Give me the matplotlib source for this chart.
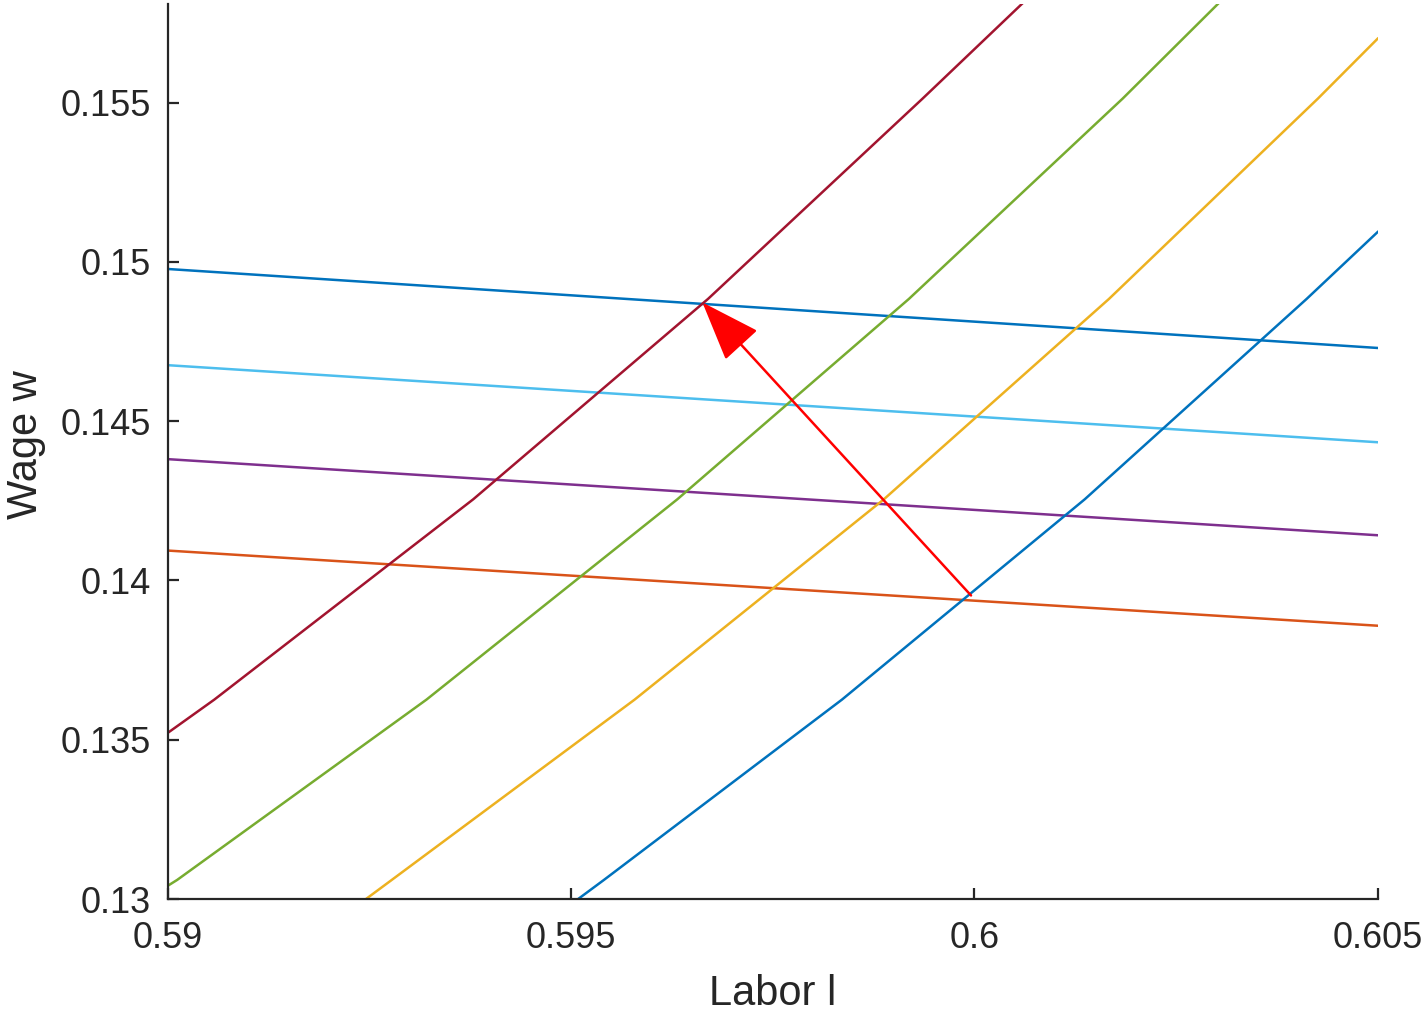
import matplotlib
matplotlib.use("Agg")
import matplotlib.pyplot as plt

plt.rcParams['font.family'] = ['Liberation Sans', 'DejaVu Sans']

# labour supply curves (labor, wage)
supply_red_l = [0.5900, 0.59058, 0.59379, 0.59670, 0.59936, 0.60059]
supply_red_w = [0.13521, 0.13626, 0.14255, 0.14884, 0.15513, 0.1581]
supply_green_l = [0.5900, 0.59012, 0.59321, 0.59632, 0.59919, 0.60184, 0.60302]
supply_green_w = [0.13041, 0.13060, 0.13626, 0.14255, 0.14884, 0.15513, 0.1581]
supply_yellow_l = [0.59246, 0.59278, 0.59579, 0.59888, 0.60167, 0.60426, 0.605]
supply_yellow_w = [0.13, 0.13060, 0.13626, 0.14255, 0.14884, 0.15513, 0.15701]
supply_blue_l = [0.59509, 0.59541, 0.59836, 0.60137, 0.60412, 0.605]
supply_blue_w = [0.13, 0.13060, 0.13626, 0.14255, 0.14884, 0.15094]

# labour demand curves, nearly flat
demand_l = [0.59, 0.605]
demand_darkblue_w = [0.14978, 0.14730]
demand_lightblue_w = [0.14676, 0.14434]
demand_purple_w = [0.14381, 0.14142]
demand_orange_w = [0.14094, 0.13858]

# equilibrium shift
arrow_from = (0.59996, 0.13953)
arrow_to = (0.59663, 0.14873)

xticks = [0.59, 0.595, 0.6, 0.605]
xticklabels = ['0.59', '0.595', '0.6', '0.605']
yticks = [0.13, 0.135, 0.14, 0.145, 0.15, 0.155]
yticklabels = ['0.13', '0.135', '0.14', '0.145', '0.15', '0.155']

fig = plt.figure(figsize=(14.22, 10.14), dpi=100)
ax = fig.add_axes([0.1178, 0.1134, 0.851, 0.8827])

lw = 1.8
ax.plot(demand_l, demand_orange_w, color='#D95319', lw=lw)
ax.plot(demand_l, demand_purple_w, color='#7E2F8E', lw=lw)
ax.plot(demand_l, demand_lightblue_w, color='#4DBEEE', lw=lw)
ax.plot(demand_l, demand_darkblue_w, color='#0072BD', lw=lw)

ax.plot(supply_blue_l, supply_blue_w, color='#0072BD', lw=lw)
ax.plot(supply_yellow_l, supply_yellow_w, color='#EDB120', lw=lw)
ax.plot(supply_green_l, supply_green_w, color='#77AC30', lw=lw)
ax.plot(supply_red_l, supply_red_w, color='#A2142F', lw=lw)

ax.annotate('', xy=arrow_to, xytext=arrow_from,
            arrowprops=dict(arrowstyle='-|>,head_length=1.9,head_width=0.7',
                            color='red', lw=1.8, shrinkA=0, shrinkB=0,
                            mutation_scale=20))

ax.set_xlim(0.59, 0.605)
ax.set_ylim(0.13, 0.1581)
ax.set_xticks(xticks)
ax.set_xticklabels(xticklabels)
ax.set_yticks(yticks)
ax.set_yticklabels(yticklabels)

ax.spines['top'].set_visible(False)
ax.spines['right'].set_visible(False)
for s in ['left', 'bottom']:
    ax.spines[s].set_linewidth(1.6)
    ax.spines[s].set_color('#262626')
ax.tick_params(direction='in', length=8, width=1.6, color='#262626',
               labelsize=26, labelcolor='#262626')
ax.tick_params(axis='x', pad=16)
ax.tick_params(axis='y', pad=12)

ax.set_xlabel('Labor l', fontsize=30, color='#262626', labelpad=13)
ax.set_ylabel('Wage w', fontsize=30, color='#262626')
ax.yaxis.set_label_coords(-0.1, 0.508)

fig.savefig('out.png', dpi=100)
